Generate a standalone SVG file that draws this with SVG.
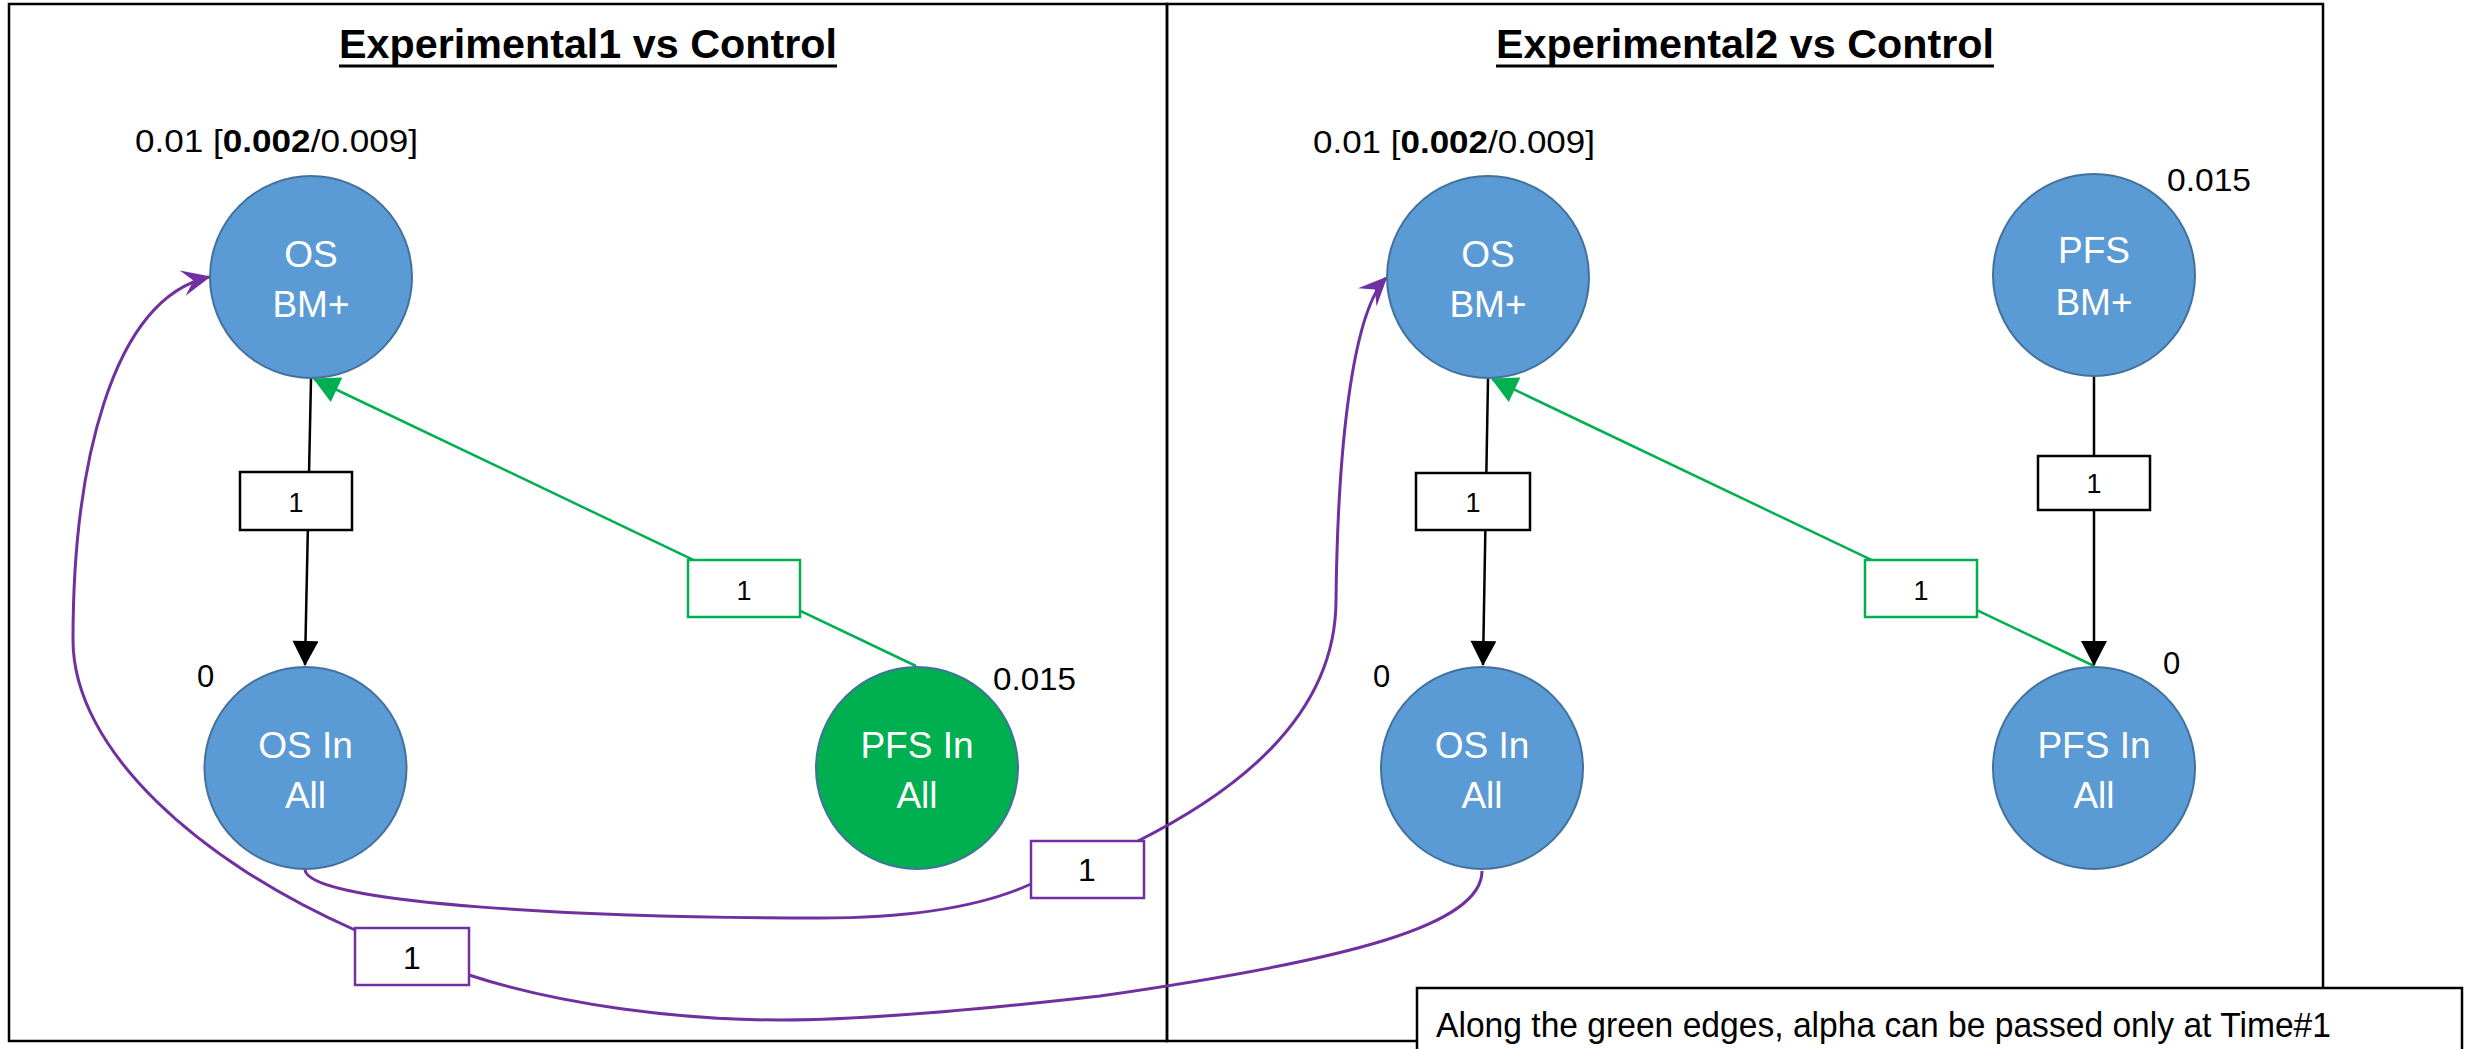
<svg xmlns="http://www.w3.org/2000/svg" width="2471" height="1049" viewBox="0 0 2471 1049">
<style>
.frame{fill:none;stroke:#000;stroke-width:2.5}
.node{fill:#5B9BD5;stroke:#41719C;stroke-width:2}
.gnode{fill:#00B050;stroke:#41719C;stroke-width:2}
.ntxt{font-family:"Liberation Sans",Arial,sans-serif;font-size:37px;fill:#fff;text-anchor:middle}
.title{font-family:"Liberation Sans",Arial,sans-serif;font-size:41px;font-weight:bold;fill:#000}
.lbl{font-family:"Liberation Sans",Arial,sans-serif;font-size:31px;fill:#000}
.etxt{font-family:"Liberation Sans",Arial,sans-serif;font-size:27px;fill:#000;text-anchor:middle}
.ptxt{font-family:"Liberation Sans",Arial,sans-serif;font-size:32px;fill:#000;text-anchor:middle}
.bk{stroke:#000;stroke-width:2.5;fill:none}
.gr{stroke:#00B050;stroke-width:2.5;fill:none}
.pu{stroke:#7030A0;stroke-width:3;fill:none}
.bbox{fill:#fff;stroke:#000;stroke-width:2.5}
.gbox{fill:#fff;stroke:#00B050;stroke-width:2.5}
.pbox{fill:#fff;stroke:#7030A0;stroke-width:2.5}
</style>
<defs>
<marker id="ab" markerUnits="userSpaceOnUse" markerWidth="26" markerHeight="26" viewBox="0 0 25 26" refX="24" refY="13" orient="auto"><path d="M0,0 L25,13 L0,26 z" fill="#000"/></marker>
<marker id="ag" markerUnits="userSpaceOnUse" markerWidth="27" markerHeight="27" viewBox="0 0 26 27" refX="25" refY="13.5" orient="auto"><path d="M0,0 L26,13.5 L0,27 z" fill="#00B050"/></marker>
<marker id="ap" markerUnits="userSpaceOnUse" markerWidth="30" markerHeight="26" viewBox="0 0 29 26" refX="27" refY="13" orient="auto"><path d="M0,0 L29,13 L0,26 L11,13 z" fill="#7030A0"/></marker>
</defs>
<rect width="2471" height="1049" fill="#fff"/>
<g id="frames">
<rect class="frame" x="9" y="4" width="1158" height="1037"/>
<rect class="frame" x="1167" y="4" width="1156" height="1037"/>
</g>
<g id="titles">
<text class="title" x="339" y="58" textLength="498" lengthAdjust="spacingAndGlyphs">Experimental1 vs Control</text>
<line x1="339" y1="66" x2="837" y2="66" stroke="#000" stroke-width="3"/>
<text class="title" x="1496" y="58" textLength="498" lengthAdjust="spacingAndGlyphs">Experimental2 vs Control</text>
<line x1="1496" y1="66" x2="1994" y2="66" stroke="#000" stroke-width="3"/>
</g>
<g id="connectors">
<line class="bk" x1="311" y1="379" x2="305" y2="665" marker-end="url(#ab)"/>
<line class="gr" x1="916" y1="666" x2="314" y2="379" marker-end="url(#ag)"/>
<line class="bk" x1="1488" y1="379" x2="1483" y2="665" marker-end="url(#ab)"/>
<line class="gr" x1="2094" y1="666" x2="1492" y2="379" marker-end="url(#ag)"/>
<line class="bk" x1="2094" y1="377" x2="2094" y2="665" marker-end="url(#ab)"/>
<path class="pu" d="M305,870 C310,905 600,918 820,918 C920,918 985,905 1031,884 L1136,842 C1230,795 1336,720 1336,600 C1338,430 1355,310 1386,278" marker-end="url(#ap)"/>
<path class="pu" d="M1482,871 C1482,925 1350,960 1100,996 C950,1013 850,1020 780,1020 C680,1020 560,1005 469,975 L355,930 C200,862 73,750 73,640 C73,470 110,300 209,277" marker-end="url(#ap)"/>
<rect class="bbox" x="240" y="472" width="112" height="58"/>
<text class="etxt" x="296" y="512">1</text>
<rect class="gbox" x="688" y="560" width="112" height="57"/>
<text class="etxt" x="744" y="600">1</text>
<rect class="pbox" x="1031" y="841" width="113" height="57"/>
<text class="ptxt" x="1087" y="881">1</text>
<rect class="pbox" x="355" y="928" width="114" height="57"/>
<text class="ptxt" x="412" y="969">1</text>
<rect class="bbox" x="1416" y="473" width="114" height="57"/>
<text class="etxt" x="1473" y="512">1</text>
<rect class="gbox" x="1865" y="560" width="112" height="57"/>
<text class="etxt" x="1921" y="600">1</text>
<rect class="bbox" x="2038" y="456" width="112" height="54"/>
<text class="etxt" x="2094" y="493">1</text>
</g>
<g id="node-l-os-bm">
<circle class="node" cx="311" cy="277" r="101"/>
<text class="ntxt" x="311" y="267">OS</text>
<text class="ntxt" x="311" y="317">BM+</text>
<text class="lbl" x="135" y="152" textLength="283" lengthAdjust="spacingAndGlyphs">0.01 [<tspan font-weight="bold">0.002</tspan>/0.009]</text>
</g>
<g id="node-l-os-all">
<circle class="node" cx="305.5" cy="768" r="101"/>
<text class="ntxt" x="305.5" y="758">OS In</text>
<text class="ntxt" x="305.5" y="808">All</text>
<text class="lbl" x="197" y="687">0</text>
</g>
<g id="node-l-pfs-all">
<circle class="gnode" cx="917" cy="768" r="101"/>
<text class="ntxt" x="917" y="758">PFS In</text>
<text class="ntxt" x="917" y="808">All</text>
<text class="lbl" x="993" y="690" textLength="83" lengthAdjust="spacingAndGlyphs">0.015</text>
</g>
<g id="node-r-os-bm">
<circle class="node" cx="1488" cy="277" r="101"/>
<text class="ntxt" x="1488" y="267">OS</text>
<text class="ntxt" x="1488" y="317">BM+</text>
<text class="lbl" x="1313" y="153" textLength="282" lengthAdjust="spacingAndGlyphs">0.01 [<tspan font-weight="bold">0.002</tspan>/0.009]</text>
</g>
<g id="node-r-pfs-bm">
<circle class="node" cx="2094" cy="275" r="101"/>
<text class="ntxt" x="2094" y="263">PFS</text>
<text class="ntxt" x="2094" y="315">BM+</text>
<text class="lbl" x="2167" y="191" textLength="84" lengthAdjust="spacingAndGlyphs">0.015</text>
</g>
<g id="node-r-os-all">
<circle class="node" cx="1482" cy="768" r="101"/>
<text class="ntxt" x="1482" y="758">OS In</text>
<text class="ntxt" x="1482" y="808">All</text>
<text class="lbl" x="1373" y="687">0</text>
</g>
<g id="node-r-pfs-all">
<circle class="node" cx="2094" cy="768" r="101"/>
<text class="ntxt" x="2094" y="758">PFS In</text>
<text class="ntxt" x="2094" y="808">All</text>
<text class="lbl" x="2163" y="674">0</text>
</g>
<g id="note">
<rect x="1417" y="988" width="1045" height="75" fill="#fff" stroke="#000" stroke-width="2.5"/>
<text x="1436" y="1037" font-family="'Liberation Sans',Arial,sans-serif" font-size="35" textLength="895" lengthAdjust="spacingAndGlyphs">Along the green edges, alpha can be passed only at Time#1</text>
</g>
</svg>
